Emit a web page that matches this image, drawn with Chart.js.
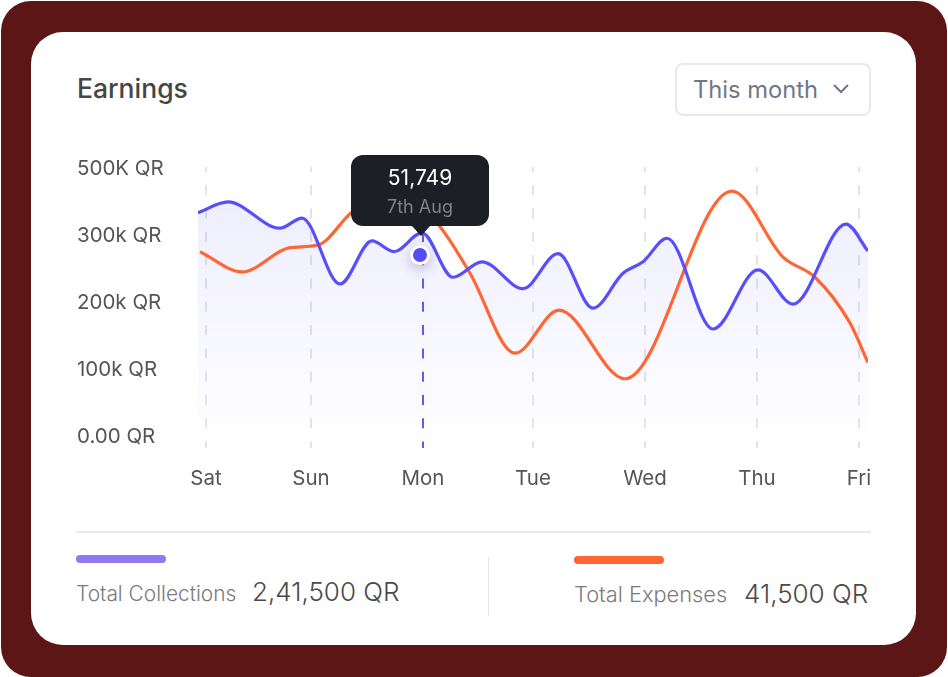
<!DOCTYPE html>
<html>
<head>
<meta charset="utf-8">
<script src="https://cdn.jsdelivr.net/npm/chart.js@4/dist/chart.umd.js"></script>
<style>
    html, body { margin: 0; padding: 0; background: #fff; }
    body { width: 948px; height: 677px; position: relative; overflow: hidden; font-family: Inter, sans-serif; }
    .frame { position: absolute; left: 1px; top: 1px; width: 946px; height: 676px; background: #5c1616; border-radius: 30px; }
    .card { position: absolute; left: 31px; top: 32px; width: 885px; height: 613px; background: #fff; border-radius: 32px; }
    .abs { position: absolute; white-space: nowrap; }
    #chartBox { position: absolute; left: 70px; top: 150px; width: 810px; height: 350px; }
    .title { left: 77px; top: 71px; font-size: 26.5px; line-height: 34px; font-weight: 500; color: #454545; }
    .select { left: 675px; top: 63px; width: 192px; height: 49px; border: 2px solid #e9e9ec; border-radius: 8px; background: #fff; }
    .select span { position: absolute; left: 16px; top: 10px; font-size: 23.7px; line-height: 30px; color: #71778a; }
    .select svg { position: absolute; left: 155px; top: 18px; }
    .tip { left: 351px; top: 155px; width: 138px; height: 71px; background: #1c1f26; border-radius: 12px; text-align: center; }
    .tip b { position: absolute; left: 0; right: 0; top: 11px; font-size: 21px; line-height: 24px; font-weight: 400; color: #fff; }
    .tip i { position: absolute; left: 0; right: 0; top: 41px; font-size: 18px; line-height: 22px; font-style: normal; color: #7e828c; }
    .tipArrow { left: 412px; top: 226px; width: 0; height: 0; border-left: 9px solid transparent; border-right: 9px solid transparent; border-top: 10px solid #1c1f26; }
    .rule { left: 76px; top: 531px; width: 795px; height: 2px; background: #ebebeb; }
    .vrule { left: 488px; top: 557px; width: 1px; height: 59px; background: #e6e6e6; }
    .swatch { width: 90px; height: 8px; border-radius: 4px; }
    .label { line-height: 26px; color: #7b7b7b; font-weight: 300; }
    .total { font-size: 26px; line-height: 32px; color: #4a4a4a; font-weight: 300; }
</style>
</head>
<body>
<div class="frame"></div>
<div class="card"></div>
<div class="abs title">Earnings</div>
<div class="abs select">
    <span>This month</span>
    <svg width="18" height="12" viewBox="0 0 18 12"><path d="M2 2 L9 9 L16 2" fill="none" stroke="#71778a" stroke-width="2"/></svg>
</div>
<div id="chartBox"><canvas id="earningsChart"></canvas></div>
<div class="abs tip"><b>51,749</b><i>7th Aug</i></div>
<div class="abs tipArrow"></div>
<div class="abs rule"></div>
<div class="abs vrule"></div>
<div class="abs swatch" style="left:76px;top:555px;background:#9079f2"></div>
<div class="abs swatch" style="left:574px;top:556px;background:#ff6633"></div>
<div class="abs label" style="left:76px;top:581px;font-size:20.9px">Total Collections</div>
<div class="abs total" style="left:252px;top:576px">2,41,500 QR</div>
<div class="abs label" style="left:574px;top:581px;font-size:21.8px">Total Expenses</div>
<div class="abs total" style="left:744px;top:578px">41,500 QR</div>

<script>
const dayLabels = ["Sat", "Sun", "Mon", "Tue", "Wed", "Thu", "Fri"];
const dayTicks = [8, 113, 225, 335, 447, 559, 661];
const yTickValues = [-2, 98, 198, 298, 398];
const yTickLabels = ["0.00 QR", "100k QR", "200k QR", "300k QR", "500K QR"];

const collectionsX = [0, 30, 82, 104, 142, 174, 196, 224, 255, 284, 325, 360, 395, 425, 445, 469, 515, 560, 595, 648, 670];
const collectionsY = [332, 348, 309, 324, 226, 290, 274, 302, 236, 259, 219, 271, 190, 242, 259, 294, 159, 247, 196, 315, 275];

const expensesX = [2, 44, 92, 120, 154, 197, 242, 272, 317, 361, 427, 534, 585, 617, 652, 670];
const expensesY = [274, 244, 280, 284, 333, 373, 311, 242, 123, 187, 85, 364, 266, 236, 168, 109];

const activeX = [222];
const activeY = [269];

const toPoints = (xs, ys) => xs.map((x, i) => ({ x: x, y: ys[i] }));

// soft shadow behind the highlighted point only
const markerShadow = {
    id: "markerShadow",
    beforeDatasetDraw(chart, args) {
        if (args.index !== 0) return;
        chart.ctx.save();
        chart.ctx.shadowColor = "rgba(60, 50, 160, 0.25)";
        chart.ctx.shadowBlur = 12;
        chart.ctx.shadowOffsetY = 4;
    },
    afterDatasetDraw(chart, args) {
        if (args.index === 0) chart.ctx.restore();
    }
};

new Chart(document.getElementById("earningsChart"), {
    type: "line",
    data: {
        datasets: [
            {
                label: "Active",
                data: toPoints(activeX, activeY),
                showLine: false,
                pointRadius: 8.5,
                pointBackgroundColor: "#574ffa",
                pointBorderColor: "#ffffff",
                pointBorderWidth: 3
            },
            {
                label: "Total Collections",
                data: toPoints(collectionsX, collectionsY),
                borderColor: "#574ffa",
                borderWidth: 3.2,
                cubicInterpolationMode: "monotone",
                pointRadius: 0,
                fill: "start",
                backgroundColor(ctx) {
                    const area = ctx.chart.chartArea;
                    if (!area) return "transparent";
                    const g = ctx.chart.ctx.createLinearGradient(0, area.top, 0, area.bottom);
                    g.addColorStop(0, "rgba(87, 79, 250, 0.11)");
                    g.addColorStop(1, "rgba(87, 79, 250, 0)");
                    return g;
                }
            },
            {
                label: "Total Expenses",
                data: toPoints(expensesX, expensesY),
                borderColor: "#ff6633",
                borderWidth: 3.2,
                cubicInterpolationMode: "monotone",
                pointRadius: 0,
                fill: false
            }
        ]
    },
    options: {
        responsive: true,
        maintainAspectRatio: false,
        animation: false,
        layout: { padding: { left: 7, top: 17, right: 12, bottom: 0 } },
        plugins: {
            legend: { display: false },
            tooltip: { enabled: false },
            filler: { drawTime: "beforeDatasetsDraw" }
        },
        scales: {
            x: {
                type: "linear",
                min: 0,
                max: 670,
                afterBuildTicks(scale) { scale.ticks = dayTicks.map(v => ({ value: v })); },
                afterFit(scale) {
                    scale.height = 52;
                    scale.paddingLeft = 0;
                    scale.paddingRight = 0;
                },
                border: { display: false, dash: [10, 13.3], dashOffset: 5 },
                grid: {
                    drawTicks: false,
                    lineWidth: 2,
                    color(ctx) { return ctx.index === 2 ? "#6259ee" : "#e4e4e8"; }
                },
                ticks: {
                    autoSkip: false,
                    maxRotation: 0,
                    padding: 19,
                    color: "#555555",
                    font: { family: "Inter", size: 20.5 },
                    callback(value, index) { return dayLabels[index]; }
                }
            },
            y: {
                min: -18,
                max: 400,
                afterBuildTicks(scale) { scale.ticks = yTickValues.map(v => ({ value: v })); },
                afterFit(scale) { scale.width = 121; },
                border: { display: false },
                grid: { display: false },
                ticks: {
                    crossAlign: "far",
                    padding: 0,
                    color: "#555555",
                    font: { family: "Inter", size: 20.5 },
                    callback(value, index) { return yTickLabels[index]; }
                }
            }
        }
    },
    plugins: [markerShadow]
});
</script>
</body>
</html>
